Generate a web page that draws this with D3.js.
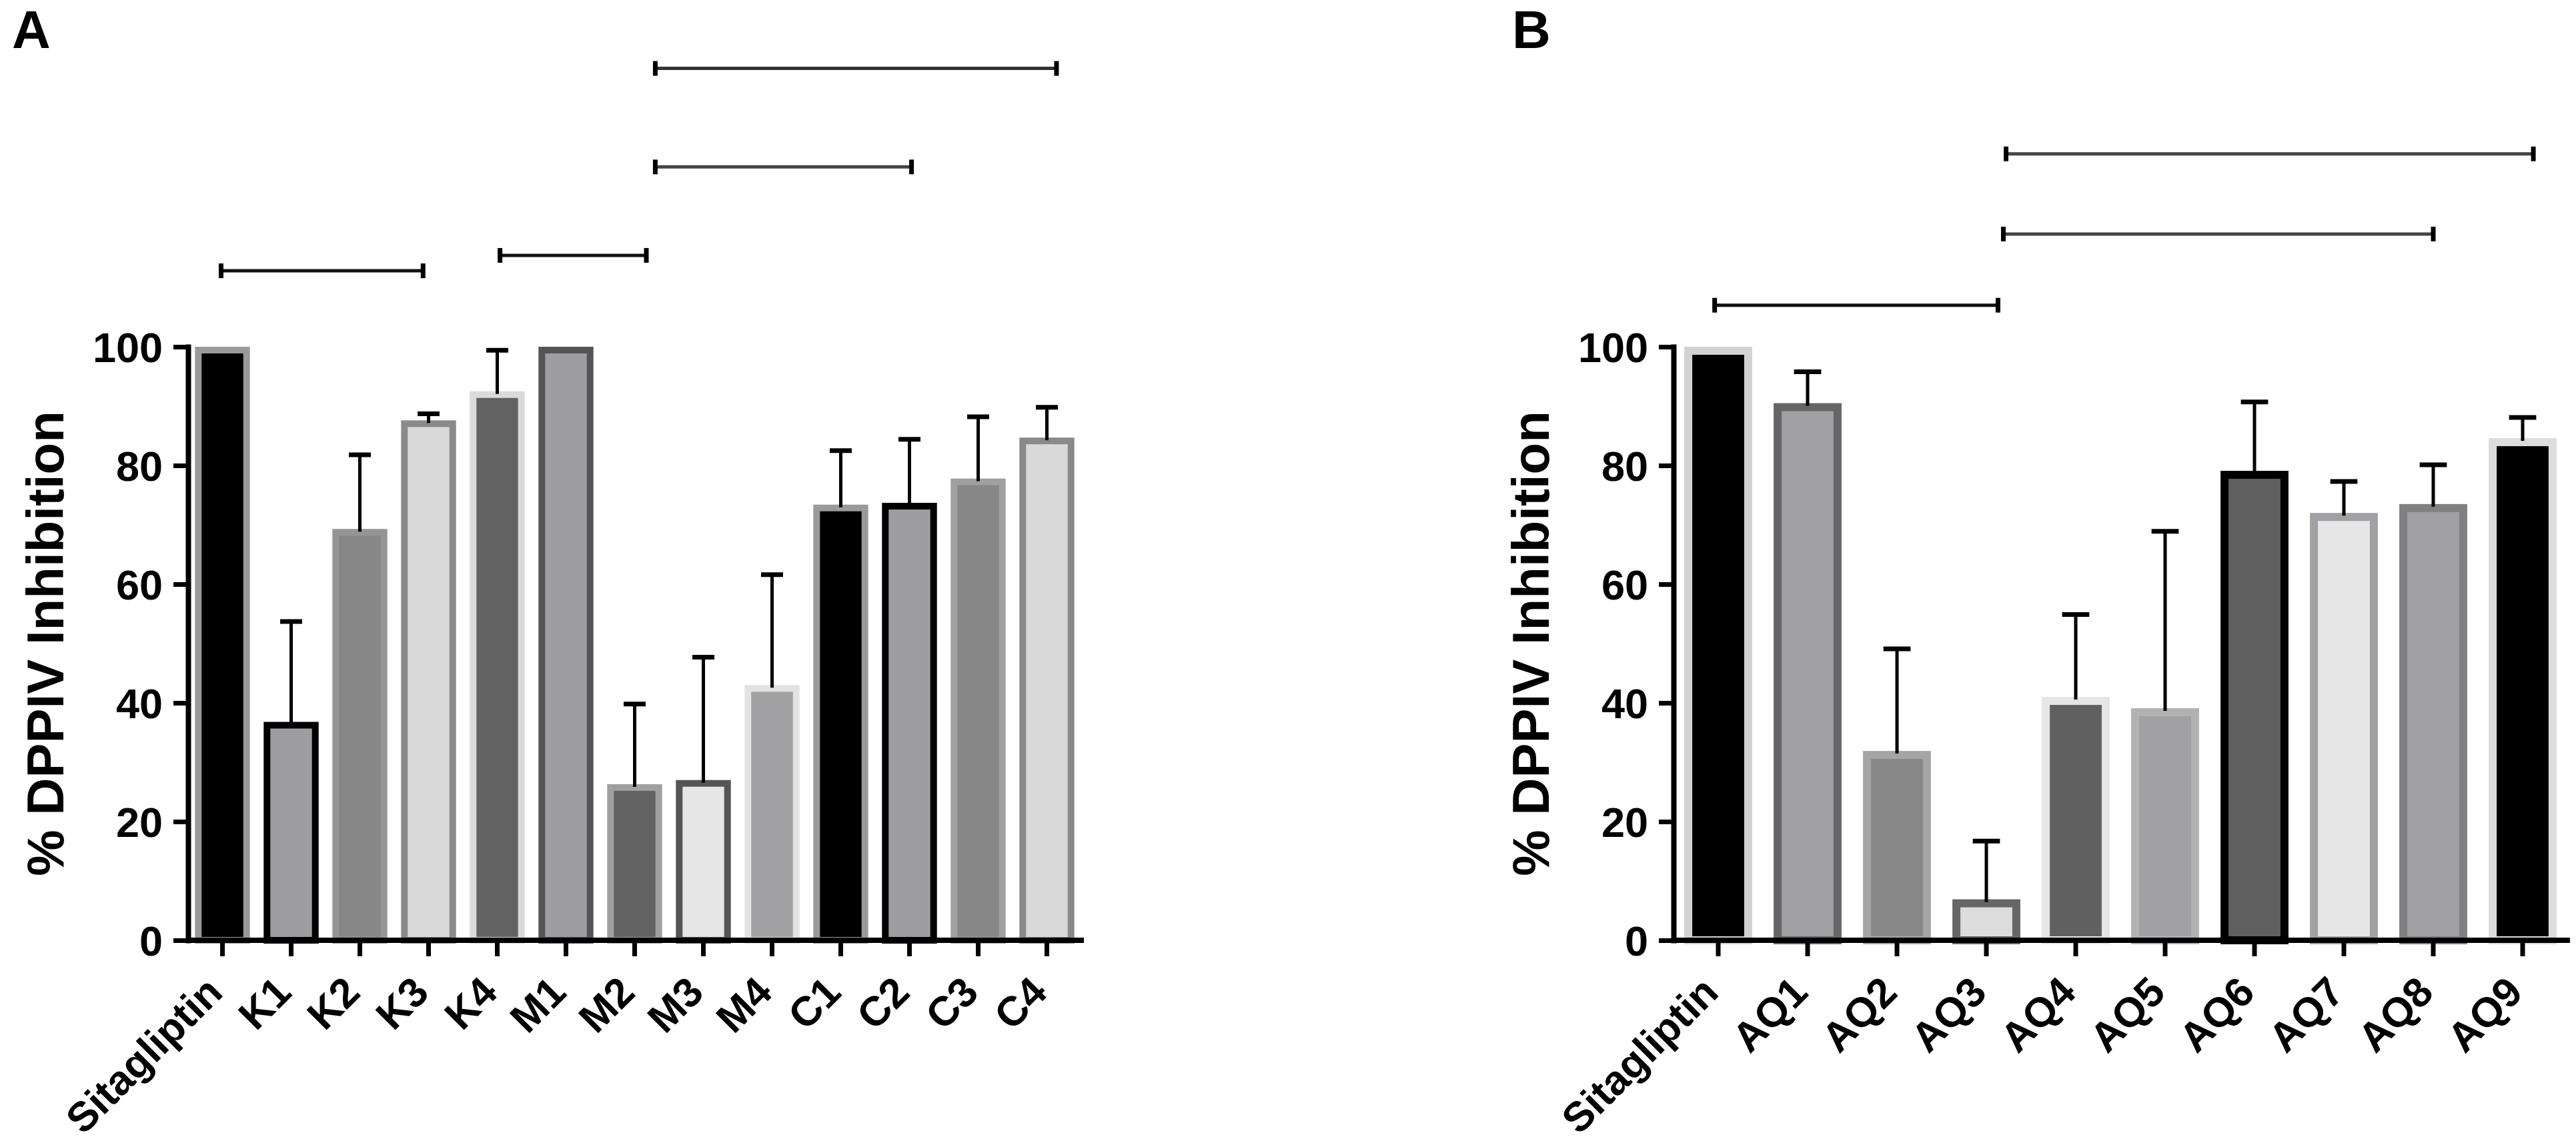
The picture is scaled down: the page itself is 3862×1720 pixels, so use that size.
<!DOCTYPE html>
<html>
<head>
<meta charset="utf-8">
<script src="https://cdn.jsdelivr.net/npm/d3@7"></script>
<style>
  html, body { margin: 0; padding: 0; background: #fff; }
  svg text { font-family: "Liberation Sans", Arial, sans-serif; font-weight: bold; fill: #000; }
</style>
</head>
<body>
<svg id="chart" width="3862" height="1720"></svg>
<script>
// panel A data
const catsA = ["Sitagliptin", "K1", "K2", "K3", "K4", "M1", "M2", "M3", "M4", "C1", "C2", "C3", "C4"]
const meanA = [100, 36.8, 69.3, 87.6, 92.5, 100, 26.3, 27.0, 43.0, 73.4, 73.7, 77.8, 84.7]
const sdA   = [0, 16.9, 12.5, 1.1, 6.9, 0, 13.5, 20.7, 18.6, 9.1, 10.7, 10.4, 5.1]

// panel B data
const catsB = ["Sitagliptin", "AQ1", "AQ2", "AQ3", "AQ4", "AQ5", "AQ6", "AQ7", "AQ8", "AQ9"]
const meanB = [100, 90.5, 31.9, 6.9, 41.0, 39.1, 79.1, 72.0, 73.5, 84.6]
const sdB   = [0, 5.3, 17.2, 9.8, 13.9, 29.8, 11.6, 5.3, 6.6, 3.5]

const yTicks = [0, 20, 40, 60, 80, 100]
const yTitle = "% DPPIV Inhibition"

// significance brackets: start / end category, offset in steps, height in % units
const bracketsA = [
  { from: "Sitagliptin", fromOff: -0.02, to: "K3", toOff: -0.08, level: 112.8 },
  { from: "K4", fromOff: 0.04, to: "M2", toOff: 0.17, level: 115.4 },
  { from: "M2", fromOff: 0.3, to: "C2", toOff: 0.03, level: 130.3 },
  { from: "M2", fromOff: 0.3, to: "C4", toOff: 0.14, level: 146.9 }
]
const bracketsB = [
  { from: "Sitagliptin", fromOff: -0.04, to: "AQ3", toOff: 0.13, level: 107 },
  { from: "AQ3", fromOff: 0.19, to: "AQ8", toOff: 0, level: 119 },
  { from: "AQ3", fromOff: 0.22, to: "AQ9", toOff: 0.12, level: 132.5 }
]

// styles
const fillA   = ["#000", "#9d9da2", "#878787", "#d9d9d9", "#626262", "#9d9da2", "#626262", "#e6e6e6", "#a0a0a3", "#000", "#9d9da2", "#878787", "#d9d9d9"]
const strokeA = ["#9a9a9a", "#000", "#959595", "#8a8a8a", "#dadada", "#555", "#a0a0a0", "#555", "#e2e2e2", "#9a9a9a", "#000", "#a0a0a0", "#8a8a8a"]
const fillB   = ["#000", "#a0a0a5", "#888", "#dcdcdc", "#606060", "#a0a0a5", "#606060", "#e6e6e6", "#a0a0a5", "#000"]
const strokeB = ["#d2d2d2", "#666", "#a5a5a5", "#666", "#e6e6e6", "#b2b2b5", "#000", "#a0a0a5", "#808080", "#dcdcdc"]
const bracketColA = ["#111", "#111", "#444", "#333"]
const bracketColB = ["#111", "#444", "#444"]

const svg = d3.select("#chart")

const y = d3.scaleLinear().domain([0, 100]).range([1410, 520])

const panels = [
  { letter: "A", letterX: 18, titleX: 95, x0: 282, x1: 1621, pad: 0.2, sw: 10,
    cats: catsA, mean: meanA, sd: sdA, fill: fillA, stroke: strokeA, brackets: bracketsA, bcol: bracketColA },
  { letter: "B", letterX: 2267, titleX: 2322, x0: 2509, x1: 3849, pad: 0.24, sw: 12,
    cats: catsB, mean: meanB, sd: sdB, fill: fillB, stroke: strokeB, brackets: bracketsB, bcol: bracketColB }
]

panels.forEach(p => {
  const g = svg.append("g")
  const x = d3.scaleBand().domain(p.cats).range([p.x0, p.x1])
    .paddingInner(p.pad).paddingOuter(p.pad / 2)
  const bw = x.bandwidth()
  const rows = p.cats.map((c, i) => ({ c, v: p.mean[i], sd: p.sd[i], fill: p.fill[i], stroke: p.stroke[i] }))

  // bars
  g.selectAll(".bar").data(rows).enter().append("rect")
    .attr("class", "bar")
    .attr("x", d => x(d.c) + p.sw / 2)
    .attr("width", bw - p.sw)
    .attr("y", d => y(d.v) + p.sw / 2)
    .attr("height", d => y(0) - y(d.v) - p.sw / 2)
    .attr("fill", d => d.fill)
    .attr("stroke", d => d.stroke)
    .attr("stroke-width", p.sw)

  // error bars (upper only)
  const eb = g.selectAll(".err").data(rows.filter(d => d.sd > 0)).enter().append("g").attr("class", "err")
  eb.append("line")
    .attr("x1", d => x(d.c) + bw / 2).attr("x2", d => x(d.c) + bw / 2)
    .attr("y1", d => y(d.v) + 4).attr("y2", d => y(d.v + d.sd))
    .attr("stroke", "#000").attr("stroke-width", 5)
  eb.append("line")
    .attr("x1", d => x(d.c) + bw * 0.3).attr("x2", d => x(d.c) + bw * 0.7)
    .attr("y1", d => y(d.v + d.sd)).attr("y2", d => y(d.v + d.sd))
    .attr("stroke", "#000").attr("stroke-width", 7)

  // axes
  const ya = g.append("g").attr("transform", `translate(${p.x0},0)`)
    .call(d3.axisLeft(y).tickValues(yTicks).tickSize(22).tickSizeOuter(0).tickPadding(16))
  ya.select(".domain").attr("stroke-width", 8).attr("stroke-linecap", "square")
  ya.selectAll(".tick line").attr("stroke-width", 7)
  ya.selectAll(".tick text").style("font-size", "63px").attr("dy", "0.36em")

  const xa = g.append("g").attr("transform", `translate(0,${y(0)})`)
    .call(d3.axisBottom(x).tickSize(24).tickSizeOuter(0))
  xa.select(".domain").attr("stroke-width", 8).attr("d", `M${p.x0},0H${p.x1 + 4}`)
  xa.selectAll(".tick line").attr("stroke-width", 7)
  xa.selectAll(".tick text")
    .style("font-size", "62px")
    .attr("x", 0).attr("y", 0).attr("dy", "0.35em")
    .attr("text-anchor", "end")
    .attr("transform", "translate(-12,66) rotate(-45)")

  // y title
  g.append("text")
    .attr("transform", `translate(${p.titleX},${(y(0) + y(100)) / 2}) rotate(-90)`)
    .attr("text-anchor", "middle")
    .style("font-size", "78px")
    .text(yTitle)

  // panel letter
  g.append("text").attr("x", p.letterX).attr("y", 72).style("font-size", "80px").text(p.letter)

  // brackets
  const bx = (c, off) => x(c) + bw / 2 + off * x.step()
  const br = g.selectAll(".bracket").data(p.brackets).enter().append("g").attr("class", "bracket")
  br.append("line")
    .attr("x1", d => bx(d.from, d.fromOff)).attr("x2", d => bx(d.to, d.toOff))
    .attr("y1", d => y(d.level)).attr("y2", d => y(d.level))
    .attr("stroke", (d, i) => p.bcol[i]).attr("stroke-width", 5)
  br.append("line")
    .attr("x1", d => bx(d.from, d.fromOff)).attr("x2", d => bx(d.from, d.fromOff))
    .attr("y1", d => y(d.level) - 11).attr("y2", d => y(d.level) + 11)
    .attr("stroke", "#000").attr("stroke-width", 7)
  br.append("line")
    .attr("x1", d => bx(d.to, d.toOff)).attr("x2", d => bx(d.to, d.toOff))
    .attr("y1", d => y(d.level) - 11).attr("y2", d => y(d.level) + 11)
    .attr("stroke", "#000").attr("stroke-width", 7)
})
</script>
</body>
</html>
